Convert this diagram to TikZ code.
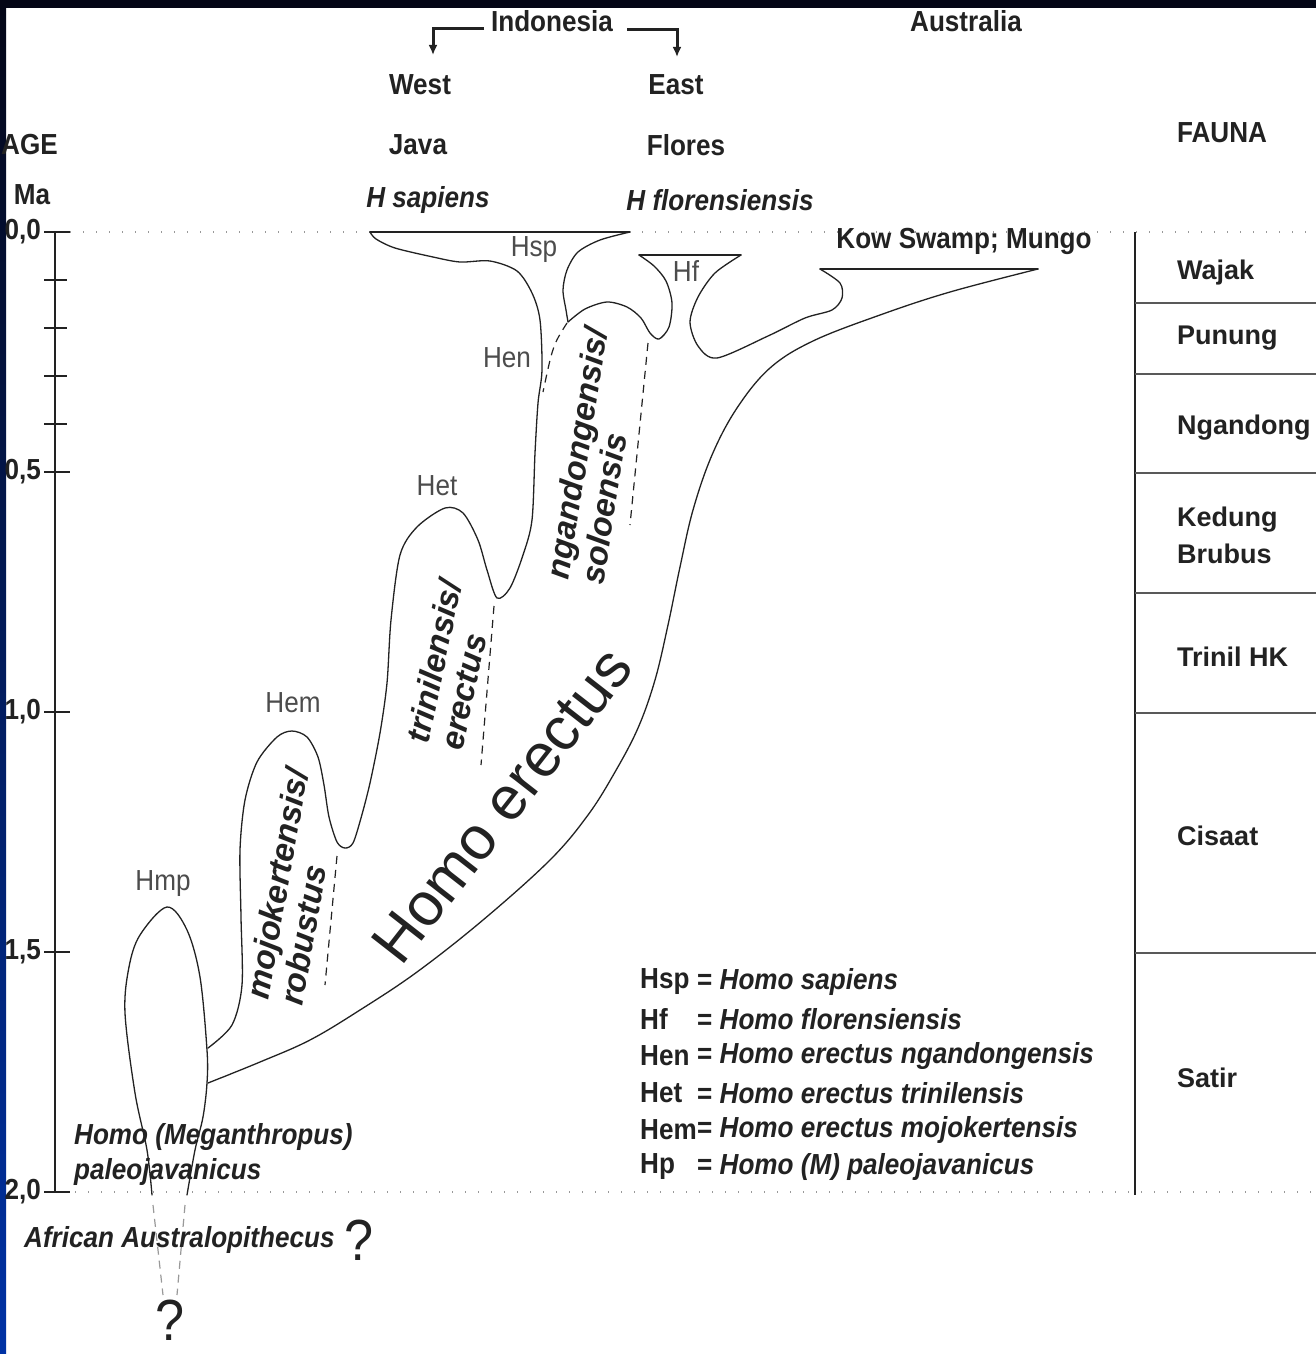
\documentclass[tikz,border=0pt]{standalone}
\usepackage{fontspec}
\setmainfont{Liberation Sans}
\newfontfamily\cnd[FakeStretch=0.9]{Liberation Sans}
\usetikzlibrary{arrows.meta,positioning}
\definecolor{ink}{HTML}{222222}
\definecolor{navy}{RGB}{4,6,22}
\definecolor{slideblue}{RGB}{0,50,165}

\begin{document}
\begin{tikzpicture}[x=1pt,y=-1pt,>=Latex,
  curve/.style={draw=ink,line width=1.3pt,line join=round,line cap=round},
  dashln/.style={draw=ink,line width=1.2pt,dash pattern=on 8pt off 6pt},
  dotln/.style={draw=black!40,line width=1.4pt,dash pattern=on 1.4pt off 11.6pt},
  lbl/.style={inner sep=0pt,text=ink,font=\cnd\bfseries\fontsize{29}{32}\selectfont},
  ilbl/.style={lbl,font=\cnd\bfseries\itshape\fontsize{29}{32}\selectfont},
  abbr/.style={inner sep=0pt,text=black!70,font=\cnd\fontsize{29}{32}\selectfont},
  taxon/.style={inner sep=0pt,text=ink,align=left,font=\bfseries\itshape\fontsize{33}{35}\selectfont},
  fauna/.style={inner sep=0pt,text=ink,anchor=west,align=left,font=\bfseries\fontsize{27}{37}\selectfont},
  qmark/.style={inner sep=0pt,text=ink,font=\cnd\fontsize{58}{60}\selectfont},
  brk/.style={draw=ink,line width=3pt,-{Latex[length=10pt,width=9pt]}}]
\useasboundingbox (0,0) rectangle (1316,1354);
\fill[white] (0,0) rectangle (1316,1354);
\shade[top color=navy,middle color=slideblue!90!black,bottom color=slideblue] (0,0) rectangle (6,1354);
\fill[navy] (0,0) rectangle (1316,8);

% header
\node[lbl] (indo) at (552,21) {Indonesia};
\node[lbl] (aus) at (966,21) {Australia};
\node[lbl] (west) at (420,85) {West};
\node[lbl] (east) at (676,85) {East};
\node[lbl] (java) at (418,145) {Java};
\node[lbl] (flores) at (686,145) {Flores};
\node[ilbl] (hsap) at (428,200) {H sapiens};
\node[ilbl] (hflo) at (720,200) {H florensiensis};
\node[lbl,anchor=west] (age) at (1,145) {AGE};
\node[lbl] (ma) at (32,195) {Ma};
\node[lbl] (fauna) at (1222,133) {FAUNA};
\coordinate (indoL) at (484,29);
\coordinate (indoR) at (627,30);
\coordinate (westtip) at (433,55);
\coordinate (easttip) at (677,57);
\draw[brk] (indoL) -| (westtip);
\draw[brk] (indoR) -| (easttip);

% time axis
\draw[dotln] (70,232) -- (1316,232);
\draw[dotln] (75,1192) -- (1316,1192);
\draw[ink,line width=1.5pt] (55,232) -- (55,1192);
\foreach \t in {0.1,0.2,0.3,0.4}
  \draw[ink,line width=1.3pt] (44,232+480*\t) -- (67,232+480*\t);
\foreach \v/\l in {0/{0,0},0.5/{0,5},1/{1,0},1.5/{1,5},2/{2,0}}{
  \draw[ink,line width=1.3pt] (44,232+480*\v) -- (70,232+480*\v);
  \node[lbl,anchor=east] (ax\l) at (41,232+480*\v) {\l};
}

% fauna column
\draw[ink,line width=1.5pt] (1135,232) -- (1135,1195);
\foreach \y in {303,374,473,593,713,953}
  \draw[black!65,line width=1.3pt] (1135,\y) -- (1316,\y);
\node[fauna] (wajak) at (1177,273) {Wajak};
\node[fauna] (punung) at (1177,338) {Punung};
\node[fauna] (ngandong) at (1177,428) {Ngandong};
\node[fauna] (kedung) at (1177,535) {Kedung\\Brubus};
\node[fauna] (trinil) at (1177,657) {Trinil HK};
\node[fauna] (cisaat) at (1177,836) {Cisaat};
\node[fauna] (satir) at (1177,1078) {Satir};

% Hmp
\draw[curve] plot[smooth,tension=0.55] coordinates {(152,1195) (147,1150) (135,1093) (125,1013)
  (129,967) (140,935) (167,907) (187,930) (200,977) (207,1050) (207,1083) (203,1117) (195,1150) (187,1195)};
\draw[dashln,draw=black!40] (153,1205) -- (163,1295);
\draw[dashln,draw=black!40] (185,1205) -- (177,1295);

% Hem - Het - Hen
\draw[curve] plot[smooth,tension=0.5] coordinates {(208,1048) (232,1025) (242,985) (241,917) (240,850)
  (245,800) (257,762) (277,737) (292,731) (307,737) (318,757) (324,785) (329,817) (337,842) (345,848)
  (353,843) (361,818) (370,783) (380,733) (387,683) (391,620) (400,555) (417,527) (445,508) (463,513)
  (478,540) (487,570) (497,598) (510,588) (523,555) (532,520) (535,453) (538,403) (542,370) (540,320)
  (532,293) (517,271) (490,261) (460,262) (433,257) (395,248) (376,239) (370,232)};
\draw[curve] (370,232) -- (630,232);
% Hsp - Hf
\draw[curve] plot[smooth,tension=0.5] coordinates {(630,232) (600,240) (578,252) (567,270) (563,290)
  (566,310) (568,322)};
\draw[curve] plot[smooth,tension=0.5] coordinates {(568,322) (585,309) (607,302) (627,307) (641,318)
  (650,333) (659,339) (669,327) (672,303) (666,281) (654,266) (639,255)};
\draw[curve] (639,255) -- (741,255);
% Hf - Kow Swamp
\draw[curve] plot[smooth,tension=0.5] coordinates {(741,255) (715,273) (698,297) (690,322) (698,346)
  (717,358) (768,336) (805,318) (832,310) (842,298) (840,283) (820,269)};
\draw[curve] (820,269) -- (1038,269);
% Homo erectus
\draw[curve] plot[smooth,tension=0.6] coordinates {(1038,269) (950,292) (880,315) (813,341) (770,368)
  (737,408) (712,455) (693,510) (680,567) (668,625) (655,680) (638,728) (615,772) (588,815) (550,860)
  (483,920) (417,972) (360,1010) (310,1040) (260,1062) (208,1083)};

% lineage boundaries
\draw[dashln] (337,856) -- (325,985);
\draw[dashln] (494,606) -- (481,765);
\draw[dashln] (567,323) .. controls (553,345) .. (543,392);
\draw[dashln] (648,343) -- (630,525);

% labels in the chart
\node[lbl] (kow) at (964,241) {Kow Swamp; Mungo};
\node[abbr] (Hsp) at (534,250) {Hsp};
\node[abbr] (Hf) at (686,271) {Hf};
\node[abbr] (Hen) at (507,358) {Hen};
\node[abbr] (Het) at (437,486) {Het};
\node[abbr] (Hem) at (293,703) {Hem};
\node[abbr] (Hmp) at (163,884) {Hmp};
\node[taxon,rotate=80] (mojo) at (294,887) {mojokertensis/\\robustus};
\node[taxon,rotate=78] (trin) at (451,665) {trinilensis/\\erectus};
\node[taxon,rotate=81] (ngan) at (594,456) {ngandongensis/\\soloensis};
\node[rotate=52,anchor=base,inner sep=0pt,text=ink,font=\fontsize{61}{61}\selectfont] (herec) at (518,818) {Homo erectus};
\node[ilbl,anchor=west] (meg) at (74,1137) {Homo (Meganthropus)};
\node[ilbl,anchor=west] (paleo) at (74,1172) {paleojavanicus};
\node[ilbl,anchor=west] (afr) at (24,1240) {African Australopithecus};
\node[qmark,anchor=base west] (q1) at (344,1260) {?};
\node[qmark,anchor=base] (q2) at (170,1340) {?};

% legend
\foreach \ab/\nm [count=\i from 0] in {Hsp/Homo sapiens,Hf/Homo florensiensis,
    Hen/Homo erectus ngandongensis,Het/Homo erectus trinilensis,
    Hem/Homo erectus mojokertensis,Hp/Homo (M) paleojavanicus}{
  \node[lbl,anchor=west] (ab\i) at (640,982+37*\i) {\ab};
  \node[lbl,anchor=west] (nm\i) at (697,982+37*\i) {= \textit{\nm}};
}
\end{tikzpicture}
\end{document}
